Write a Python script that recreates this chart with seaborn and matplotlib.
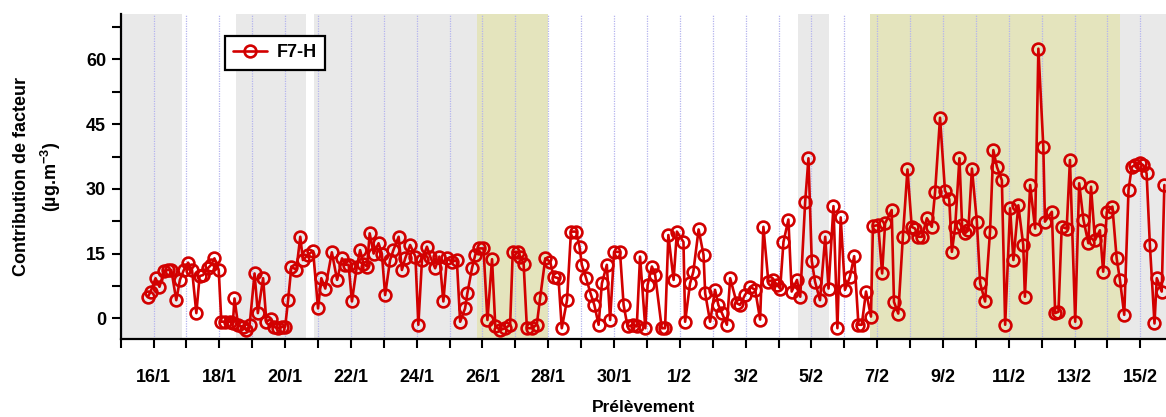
import matplotlib
matplotlib.use("Agg")
import matplotlib.pyplot as plt
import matplotlib.dates as mdates
from matplotlib.ticker import MultipleLocator, FixedLocator
import numpy as np
import pandas as pd
import seaborn as sns

# Sample times, in days after 16/1 00:00
sample_day = [
    -0.17, -0.09, 0.06, 0.18, 0.32, 0.44, 0.54, 0.69, 0.80, 0.92,
    1.05, 1.17, 1.30, 1.40, 1.50, 1.65, 1.75, 1.85, 1.98,
    2.06, 2.18, 2.31, 2.41, 2.46, 2.57, 2.72, 2.82, 2.92,
    3.07, 3.17, 3.33, 3.43, 3.56, 3.66, 3.78, 3.90,
    4.00, 4.09, 4.19, 4.34, 4.46, 4.54, 4.69, 4.85,
    5.00, 5.10, 5.22, 5.42, 5.58, 5.73, 5.83, 5.93,
    6.03, 6.18, 6.28, 6.38, 6.49, 6.57, 6.69, 6.84, 6.94,
    7.04, 7.19, 7.29, 7.45, 7.55, 7.65, 7.80, 7.96,
    8.05, 8.16, 8.31, 8.41, 8.56, 8.69, 8.81, 8.92,
    9.07, 9.22, 9.32, 9.47, 9.54, 9.68, 9.78, 9.88,
    10.03, 10.15, 10.29, 10.39, 10.54, 10.69, 10.84, 10.92,
    11.09, 11.15, 11.25, 11.35, 11.50, 11.65, 11.75, 11.91,
    12.06, 12.16, 12.31, 12.41, 12.57, 12.69, 12.85, 12.95,
    13.02, 13.15, 13.30, 13.40, 13.53, 13.63, 13.78, 13.88,
    14.00, 14.18, 14.29, 14.41, 14.59, 14.69, 14.79, 14.95,
    15.02, 15.15, 15.25, 15.45, 15.55, 15.65, 15.81, 15.91,
    16.11, 16.16, 16.31, 16.41, 16.57, 16.72, 16.77, 16.92,
    17.07, 17.17, 17.28, 17.43, 17.53, 17.73, 17.83, 17.98,
    18.14, 18.29, 18.44, 18.54, 18.69, 18.84, 18.96,
    19.05, 19.15, 19.30, 19.40, 19.56, 19.66, 19.81, 19.91,
    20.01, 20.11, 20.26, 20.42, 20.52, 20.67, 20.79, 20.89,
    21.02, 21.17, 21.30, 21.43, 21.53, 21.66, 21.81, 21.87,
    22.03, 22.15, 22.24, 22.44, 22.51, 22.64, 22.78, 22.92,
    23.05, 23.15, 23.25, 23.36, 23.51, 23.66, 23.76, 23.91,
    24.06, 24.19, 24.27, 24.37, 24.50, 24.58, 24.67, 24.77, 24.88,
    25.03, 25.13, 25.28, 25.43, 25.53, 25.64, 25.79, 25.89,
    26.04, 26.14, 26.29, 26.44, 26.49, 26.65, 26.80, 26.90,
    27.05, 27.10, 27.31, 27.41, 27.51, 27.61, 27.76, 27.86,
    28.02, 28.14, 28.27, 28.42, 28.50, 28.62, 28.77, 28.87, 28.98,
    29.15, 29.28, 29.38, 29.51, 29.64, 29.74, 29.84, 29.99,
    30.09, 30.19, 30.29, 30.43, 30.50, 30.65, 30.73,
]

# F7-H factor contribution (ug/m3)
f7h = [
    5.0, 6.2, 9.3, 7.3, 11.0, 11.2, 11.2, 4.2, 8.9, 11.2,
    12.9, 11.2, 1.2, 9.8, 10.0, 11.6, 12.4, 13.9, 11.2,
    -0.8, -0.8, -0.8, -1.2, 4.6, -1.6, -2.0, -2.7, -1.6,
    10.4, 1.2, 9.3, -0.8, -0.2, -2.0, -2.3, -2.0,
    -2.0, 4.2, 12.0, 11.2, 18.9, 13.5, 14.7, 15.6,
    2.3, 9.3, 6.9, 15.3, 8.9, 13.9, 12.4, 12.4,
    3.9, 12.0, 15.8, 12.7, 12.0, 19.7, 15.0, 17.4, 15.0,
    5.4, 13.5, 15.8, 18.9, 11.2, 13.9, 17.0, 14.3,
    -1.5, 13.5, 16.6, 14.3, 11.6, 14.3, 3.9, 13.9,
    13.1, 13.5, -0.8, 2.3, 5.8, 11.6, 14.7, 16.2,
    16.2, -0.4, 13.7, -1.9, -2.7, -2.3, -1.5, 15.4,
    15.4, 14.3, 12.7, -2.3, -2.3, -1.5, 4.6, 13.9,
    13.1, 9.6, 9.3, -2.3, 4.2, 20.1, 20.1, 16.6,
    12.4, 9.3, 5.4, 3.1, -1.5, 8.1, 12.4, -0.4,
    15.4, 15.4, 3.1, -1.9, -1.5, -1.9, 14.3, -2.3,
    7.7, 12.0, 10.0, -2.3, -2.3, 19.3, 8.9, 20.1,
    17.7, -0.8, 8.1, 10.8, 20.6, 14.7, 5.8, -0.8,
    6.6, 3.1, 1.2, -1.5, 9.3, 3.5, 3.1, 5.4,
    7.3, 6.6, -0.3, 21.2, 8.5, 8.9, 7.7,
    6.9, 17.7, 22.9, 6.2, 8.9, 5.0, 27.0, 37.1,
    13.3, 8.5, 4.2, 18.9, 6.9, 26.0, -2.3, 23.4,
    6.6, 9.6, 14.4, -1.5, -1.5, 6.2, 0.4, 21.4,
    21.6, 10.4, 22.0, 25.1, 3.8, 1.1, 18.9, 34.5,
    21.2, 20.8, 18.9, 18.9, 23.2, 21.2, 29.3, 46.5,
    29.6, 27.6, 15.4, 21.2, 37.1, 21.6, 19.7, 20.4, 34.7,
    22.4, 8.1, 3.9, 20.1, 39.0, 35.1, 32.0, -1.5,
    25.5, 13.5, 26.2, 17.0, 5.0, 30.9, 20.8, 62.5,
    39.8, 22.4, 24.7, 1.2, 1.5, 21.2, 20.8, 36.7,
    -0.8, 31.3, 22.8, 17.4, 30.5, 18.1, 20.4, 10.8, 24.7,
    25.9, 13.9, 8.9, 0.8, 29.7, 35.1, 35.5, 35.9,
    35.5, 33.6, 17.0, -1.2, 9.3, 6.2, 30.9,
]

# Background periods: (start, end, kind)
period_start = ["2015-01-15 00:00", "2015-01-18 12:00", "2015-01-20 21:00",
                "2015-01-25 20:00", "2015-02-04 14:00", "2015-02-06 19:00",
                "2015-02-14 09:00"]
period_end = ["2015-01-16 21:00", "2015-01-20 15:00", "2015-01-25 20:00",
              "2015-01-28 00:00", "2015-02-05 13:00", "2015-02-14 09:00",
              "2015-02-16 12:00"]
period_kind = ["grey", "grey", "grey", "olive", "grey", "olive", "grey"]

series_label = "F7-H"
x_start = "2015-01-15 00:00"
x_end = "2015-02-15 18:43"

# ---------------------------------------------------------------------
sns.set_style("white")
plt.rcParams["font.family"] = ["Liberation Sans", "DejaVu Sans"]
plt.rcParams["font.weight"] = "bold"
plt.rcParams["mathtext.fontset"] = "custom"
plt.rcParams["mathtext.bf"] = "Liberation Sans:bold"
plt.rcParams["mathtext.rm"] = "Liberation Sans:bold"
for key in ["text.color", "axes.labelcolor", "xtick.color", "ytick.color"]:
    plt.rcParams[key] = "black"

origin = pd.Timestamp("2015-01-16")
df = pd.DataFrame({
    "time": origin + pd.to_timedelta(np.array(sample_day), unit="D"),
    "value": f7h,
})

fig = plt.figure(figsize=(11.66, 4.17), dpi=100)
ax = fig.add_axes([0.1035, 0.186, 0.8965, 0.780])

fills = {"grey": "#e9e9e9", "olive": "#e4e4bd"}
for s, e, k in zip(period_start, period_end, period_kind):
    ax.axvspan(pd.Timestamp(s), pd.Timestamp(e), color=fills[k], lw=0, zorder=0)

red = "#d20000"
sns.lineplot(data=df, x="time", y="value", ax=ax, sort=False,
             color=red, linewidth=1.9, marker="o", markersize=8.5,
             markerfacecolor="none", markeredgecolor=red,
             markeredgewidth=1.9, label=series_label, zorder=3)

ax.set_xlim(pd.Timestamp(x_start), pd.Timestamp(x_end))
ax.set_ylim(-4.9, 70.5)

major_dates = pd.date_range("2015-01-16", periods=16, freq="2D")
ax.xaxis.set_major_locator(FixedLocator(mdates.date2num(major_dates)))
ax.xaxis.set_major_formatter(mdates.DateFormatter("%-d/%-m"))
ax.xaxis.set_minor_locator(mdates.DayLocator())
ax.yaxis.set_major_locator(MultipleLocator(15))
ax.yaxis.set_minor_locator(MultipleLocator(7.5))

ax.grid(axis="x", which="both", color="#b4b4ee", linestyle=(0, (1, 1)),
        linewidth=0.9, zorder=1)
ax.set_axisbelow(False)

for side in ["top", "right"]:
    ax.spines[side].set_visible(False)
for side in ["left", "bottom"]:
    ax.spines[side].set_linewidth(1.6)
    ax.spines[side].set_color("black")
    ax.spines[side].set_zorder(4)

ax.tick_params(axis="both", which="both", direction="out", length=6.5,
               width=1.5, color="black", left=True, bottom=True)
ax.tick_params(axis="x", which="major", pad=15, labelsize=13)
ax.tick_params(axis="y", which="major", pad=4, labelsize=13)

ax.set_xlabel("Prélèvement", fontsize=12.5, fontweight="bold", labelpad=10)
ax.set_ylabel("Contribution de facteur\n(µg.m$^{\\mathbf{-3}}$)", fontsize=13,
              fontweight="bold", linespacing=1.5)
ax.yaxis.set_label_coords(-0.055, 0.5)

leg = ax.legend(loc="upper left", bbox_to_anchor=(0.0998, 0.932),
                borderaxespad=0, fancybox=False, frameon=True,
                edgecolor="black", framealpha=1, handlelength=1.9,
                prop={"weight": "bold", "size": 13}, borderpad=0.45,
                handletextpad=0.5)
leg.get_frame().set_linewidth(1.6)

fig.savefig("out.png", dpi=100)
